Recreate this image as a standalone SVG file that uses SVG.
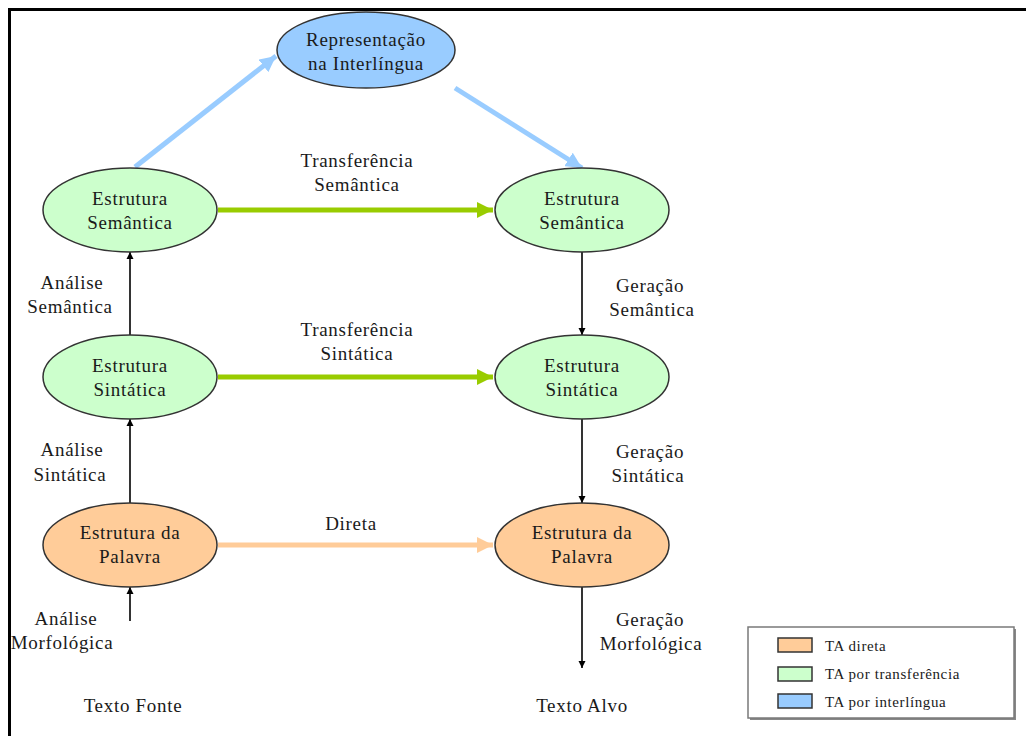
<svg xmlns="http://www.w3.org/2000/svg" width="1026" height="736" viewBox="0 0 1026 736">
<style>
text{font-size:19px;letter-spacing:0.7px;fill:#1a1a1a;text-anchor:middle}
.n{stroke:#333;stroke-width:1.5}
.g{fill:#ccffcc}.o{fill:#ffcc99}.b{fill:#99ccff}
.thin{stroke:#000;stroke-width:1.6;fill:none}
.leg{font-size:15px;letter-spacing:0.6px;text-anchor:start}
</style>
<defs>
<marker id="ab" viewBox="0 0 10 10" refX="10" refY="5" markerWidth="7" markerHeight="10" markerUnits="userSpaceOnUse" orient="auto"><path d="M0,0L10,5L0,10z" fill="#000"/></marker>
<marker id="ag" viewBox="0 0 10 10" refX="10" refY="5" markerWidth="3.2" markerHeight="3.2" orient="auto"><path d="M0,0L10,5L0,10z" fill="#99cc00"/></marker>
<marker id="ao" viewBox="0 0 10 10" refX="10" refY="5" markerWidth="3.2" markerHeight="3.2" orient="auto"><path d="M0,0L10,5L0,10z" fill="#ffcc99"/></marker>
<marker id="abl" viewBox="0 0 10 10" refX="10" refY="5" markerWidth="3.2" markerHeight="3.2" orient="auto"><path d="M0,0L10,5L0,10z" fill="#99ccff"/></marker>
</defs>
<rect width="1026" height="736" fill="#fff"/>
<path d="M8,9.5H1026M9.5,8V736" stroke="#000" stroke-width="3" fill="none"/>

<g id="connectors" font-family="'Liberation Serif', 'DejaVu Serif', serif">
<line x1="135" y1="167" x2="276" y2="56" stroke="#99ccff" stroke-width="5" marker-end="url(#abl)"/>
<line x1="455" y1="88" x2="582" y2="168" stroke="#99ccff" stroke-width="5" marker-end="url(#abl)"/>
<line x1="218" y1="210" x2="493" y2="210" stroke="#99cc00" stroke-width="5" marker-end="url(#ag)"/>
<line x1="218" y1="377" x2="493" y2="377" stroke="#99cc00" stroke-width="5" marker-end="url(#ag)"/>
<line x1="218" y1="545" x2="493" y2="545" stroke="#ffcc99" stroke-width="5" marker-end="url(#ao)"/>
<line class="thin" x1="130" y1="335" x2="130" y2="252" marker-end="url(#ab)"/>
<line class="thin" x1="130" y1="503" x2="130" y2="419" marker-end="url(#ab)"/>
<line class="thin" x1="130" y1="621" x2="130" y2="587" marker-end="url(#ab)"/>
<line class="thin" x1="582" y1="252" x2="582" y2="335" marker-end="url(#ab)"/>
<line class="thin" x1="582" y1="419" x2="582" y2="503" marker-end="url(#ab)"/>
<line class="thin" x1="582" y1="587" x2="582" y2="668" marker-end="url(#ab)"/>
<text x="357" y="167">Transferência</text>
<text x="357" y="191">Semântica</text>
<text x="357" y="336">Transferência</text>
<text x="357" y="360">Sintática</text>
<text x="351" y="530">Direta</text>
<text x="72" y="289">Análise</text>
<text x="70" y="313">Semântica</text>
<text x="72" y="456">Análise</text>
<text x="70" y="481">Sintática</text>
<text x="66" y="625">Análise</text>
<text x="62" y="649">Morfológica</text>
<text x="650" y="292">Geração</text>
<text x="652" y="316">Semântica</text>
<text x="650" y="458">Geração</text>
<text x="648" y="482">Sintática</text>
<text x="650" y="626">Geração</text>
<text x="651" y="650">Morfológica</text>
</g>

<g id="nodes" font-family="'Liberation Serif', 'DejaVu Serif', serif">
<g id="n-interlingua">
<ellipse class="n b" cx="366" cy="50" rx="89" ry="38"/>
<text x="366" y="46">Representação</text>
<text x="366" y="70">na Interlíngua</text>
</g>
<g id="n-sem-src">
<ellipse class="n g" cx="130" cy="210" rx="87" ry="42"/>
<text x="130" y="205">Estrutura</text>
<text x="130" y="229">Semântica</text>
</g>
<g id="n-sem-tgt">
<ellipse class="n g" cx="582" cy="210" rx="87" ry="42"/>
<text x="582" y="205">Estrutura</text>
<text x="582" y="229">Semântica</text>
</g>
<g id="n-sin-src">
<ellipse class="n g" cx="130" cy="377" rx="87" ry="42"/>
<text x="130" y="372">Estrutura</text>
<text x="130" y="396">Sintática</text>
</g>
<g id="n-sin-tgt">
<ellipse class="n g" cx="582" cy="377" rx="87" ry="42"/>
<text x="582" y="372">Estrutura</text>
<text x="582" y="396">Sintática</text>
</g>
<g id="n-pal-src">
<ellipse class="n o" cx="130" cy="545" rx="87" ry="42"/>
<text x="130" y="539">Estrutura da</text>
<text x="130" y="563">Palavra</text>
</g>
<g id="n-pal-tgt">
<ellipse class="n o" cx="582" cy="545" rx="87" ry="42"/>
<text x="582" y="539">Estrutura da</text>
<text x="582" y="563">Palavra</text>
</g>
<g id="n-fonte"><text x="133" y="712">Texto Fonte</text></g>
<g id="n-alvo"><text x="582" y="712">Texto Alvo</text></g>
</g>

<g id="legend" font-family="'Liberation Serif', 'DejaVu Serif', serif">
<rect x="750" y="629" width="266" height="91" fill="#888"/>
<rect x="748" y="627" width="266" height="91" fill="#fff" stroke="#7a7a7a" stroke-width="1.5"/>
<rect x="778" y="638" width="34" height="14" class="o" stroke="#333" stroke-width="1.5"/>
<rect x="778" y="667" width="34" height="14" class="g" stroke="#333" stroke-width="1.5"/>
<rect x="778" y="694" width="34" height="14" class="b" stroke="#333" stroke-width="1.5"/>
<text class="leg" x="825" y="651">TA direta</text>
<text class="leg" x="825" y="679">TA por transferência</text>
<text class="leg" x="825" y="707">TA por interlíngua</text>
</g>
</svg>
